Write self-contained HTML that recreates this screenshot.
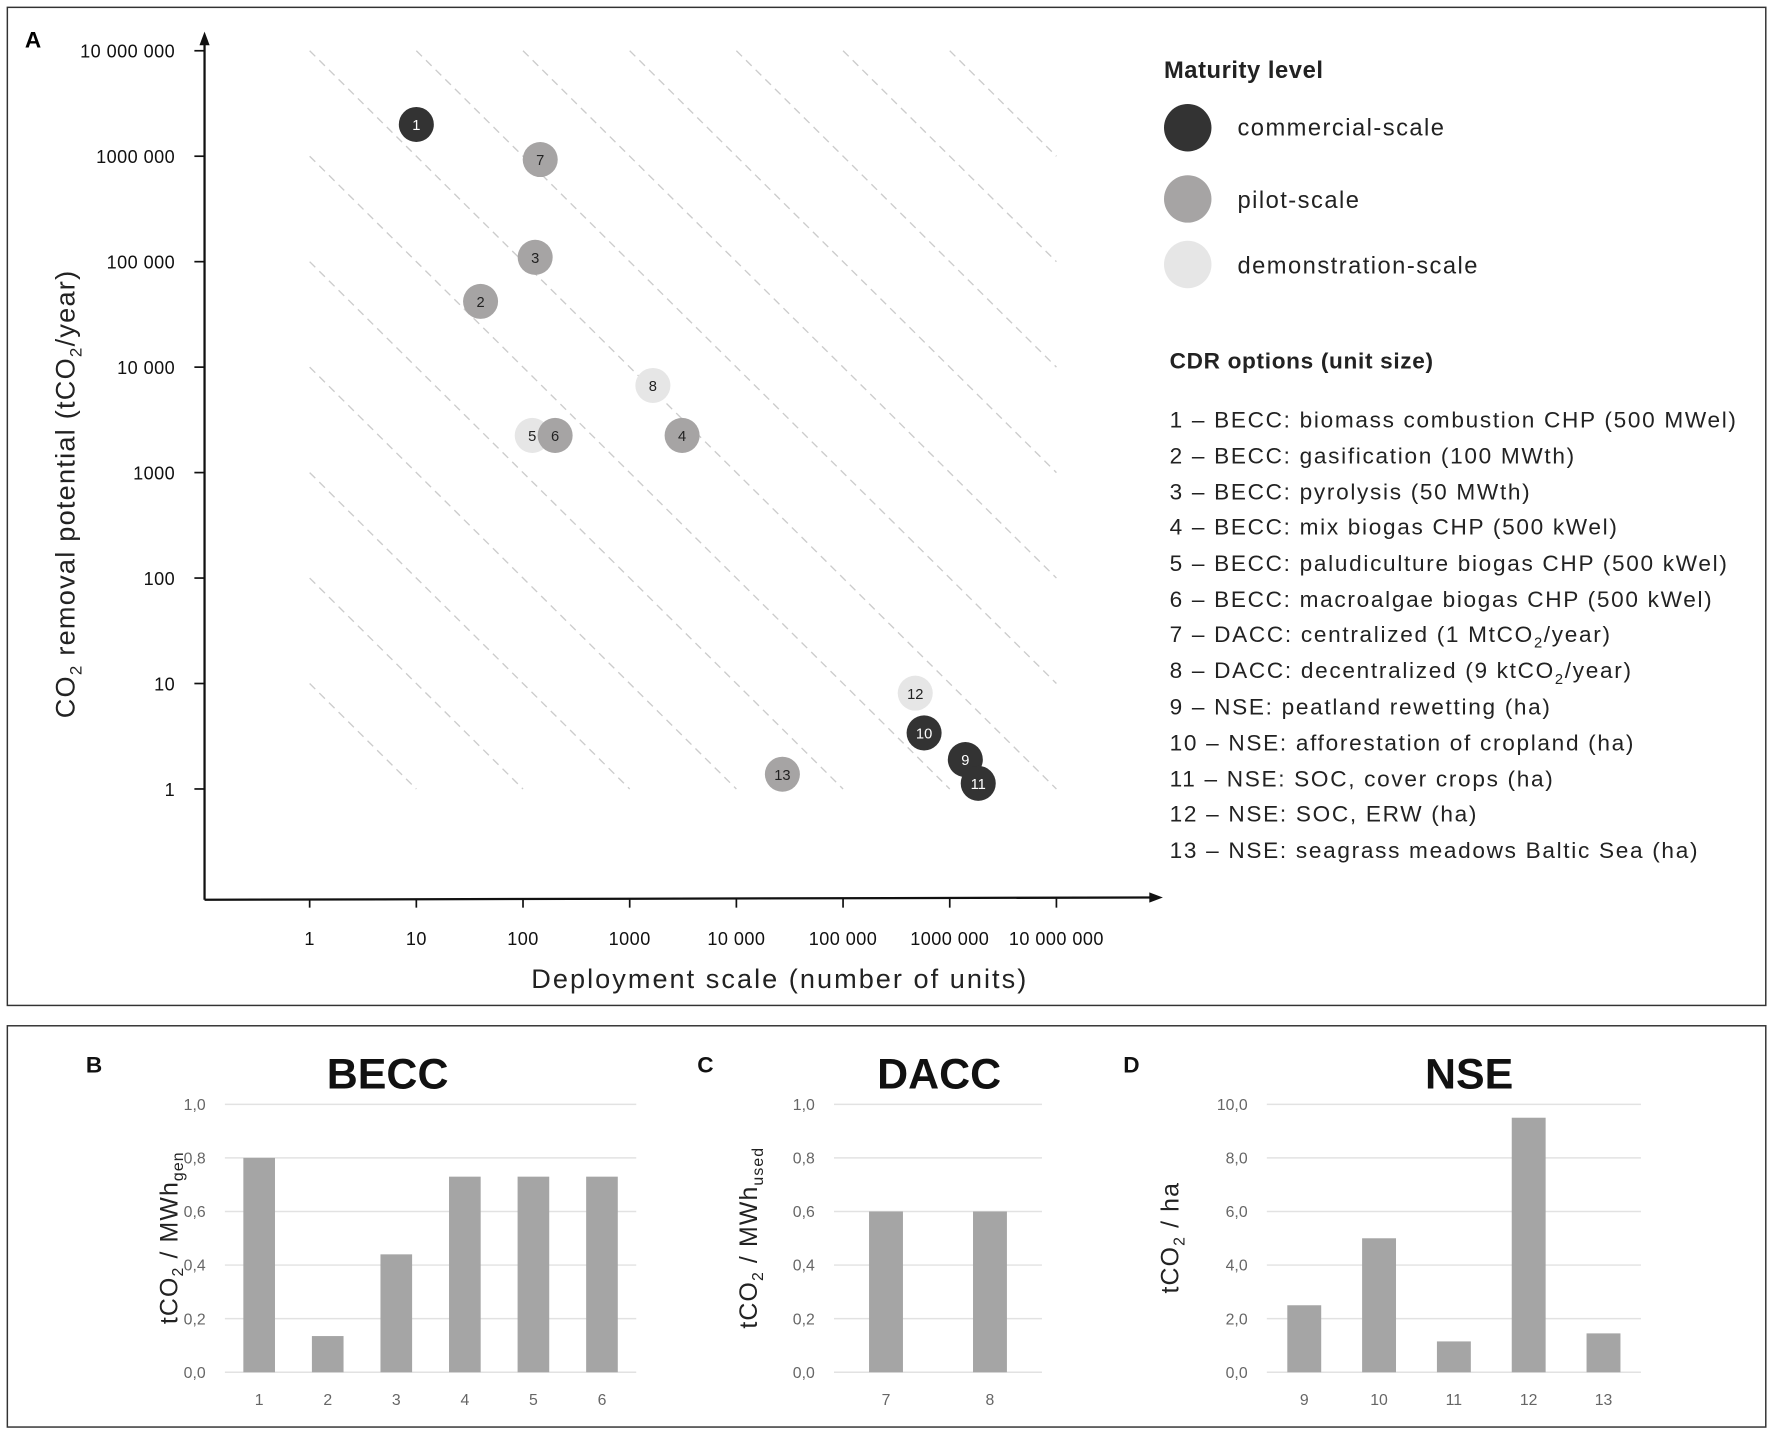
<!DOCTYPE html>
<html><head><meta charset="utf-8">
<style>
html,body{margin:0;padding:0;background:#fff;}
svg{display:block;font-family:"Liberation Sans",sans-serif;}
</style></head>
<body>
<svg id="fig" width="1772" height="1431" viewBox="0 0 1568 1266" preserveAspectRatio="none" xmlns="http://www.w3.org/2000/svg">
<rect x="6.5" y="6.5" width="1556" height="883" fill="none" stroke="#333" stroke-width="1.3"/>
<rect x="6.5" y="907.5" width="1556" height="355" fill="none" stroke="#333" stroke-width="1.3"/>
<text x="22" y="42" font-size="20" font-weight="bold">A</text>
<g id="scatter"></g>
<g id="legend" letter-spacing="1.3">
<text x="1030" y="69" font-size="21" font-weight="bold" fill="#222" letter-spacing="0.5">Maturity level</text>
<circle cx="1051" cy="113" r="21" fill="#333"/>
<text x="1095" y="120" font-size="21" fill="#222">commercial-scale</text>
<circle cx="1051" cy="176" r="21" fill="#a6a4a4"/>
<text x="1095" y="184" font-size="21" fill="#222">pilot-scale</text>
<circle cx="1051" cy="234" r="21" fill="#e6e6e6"/>
<text x="1095" y="242" font-size="21" fill="#222">demonstration-scale</text>
<text x="1035" y="326" font-size="20" font-weight="bold" fill="#222" letter-spacing="0.6">CDR options (unit size)</text>
<g font-size="20" fill="#222" letter-spacing="1.5">
<text x="1035" y="378">1 – BECC: biomass combustion CHP (500 MWel)</text>
<text x="1035" y="410">2 – BECC: gasification (100 MWth)</text>
<text x="1035" y="442">3 – BECC: pyrolysis (50 MWth)</text>
<text x="1035" y="473">4 – BECC: mix biogas CHP (500 kWel)</text>
<text x="1035" y="505">5 – BECC: paludiculture biogas CHP (500 kWel)</text>
<text x="1035" y="537">6 – BECC: macroalgae biogas CHP (500 kWel)</text>
<text x="1035" y="568">7 – DACC: centralized (1 MtCO<tspan font-size="13" dy="5">2</tspan><tspan dy="-5">/year)</tspan></text>
<text x="1035" y="600">8 – DACC: decentralized (9 ktCO<tspan font-size="13" dy="5">2</tspan><tspan dy="-5">/year)</tspan></text>
<text x="1035" y="632">9 – NSE: peatland rewetting (ha)</text>
<text x="1035" y="664">10 – NSE: afforestation of cropland (ha)</text>
<text x="1035" y="696">11 – NSE: SOC, cover crops (ha)</text>
<text x="1035" y="727">12 – NSE: SOC, ERW (ha)</text>
<text x="1035" y="759">13 – NSE: seagrass meadows Baltic Sea (ha)</text>
</g>
</g>
<g id="bars"></g>
</svg>
<script>
// ----- Scatter data (panel A) -----
const optionIds = ["1","2","3","4","5","6","7","8","9","10","11","12","13"];
const deployScale = [10, 40, 130, 3100, 122, 200, 145, 1650, 1400000, 575000, 1850000, 475000, 27000];
const removalPotential = [2000000, 42000, 110000, 2250, 2250, 2250, 930000, 6700, 1.9, 3.4, 1.13, 8.1, 1.38];
const maturity = ["commercial","pilot","pilot","pilot","demonstration","pilot","pilot","demonstration","commercial","commercial","commercial","demonstration","pilot"];
const drawOrder = [0,1,2,3,4,5,6,7,11,9,8,10,12];
const yTickLabels = ["1","10","100","1000","10 000","100 000","1000 000","10 000 000"];
const xTickLabels = ["1","10","100","1000","10 000","100 000","1000 000","10 000 000"];

// ----- Bar data (panels B, C, D) -----
const beccCats = ["1","2","3","4","5","6"];
const beccVals = [0.80, 0.135, 0.44, 0.73, 0.73, 0.73];
const daccCats = ["7","8"];
const daccVals = [0.60, 0.60];
const nseCats = ["9","10","11","12","13"];
const nseVals = [2.5, 5.0, 1.15, 9.5, 1.45];
const unitTicks = ["0,0","0,2","0,4","0,6","0,8","1,0"];
const nseTicks = ["0,0","2,0","4,0","6,0","8,0","10,0"];

const NS = "http://www.w3.org/2000/svg";
function mk(parent, tag, attrs, text){
  const e = document.createElementNS(NS, tag);
  for (const k in attrs) e.setAttribute(k, attrs[k]);
  if (text !== undefined) e.textContent = text;
  parent.appendChild(e);
  return e;
}
const X0 = 274, XD = 94.4, Y0 = 698, YD = 93.3;
const xs = v => X0 + Math.log10(v) * XD;
const ys = v => Y0 - Math.log10(v) * YD;

const sc = document.getElementById("scatter");
for (let n = 1; n <= 13; n++) {
  const dStart = Math.max(0, n - 7), dEnd = Math.min(7, n);
  const l = mk(sc, "line", {x1: xs(Math.pow(10,dStart)), y1: ys(Math.pow(10,n-dStart)), x2: xs(Math.pow(10,dEnd)), y2: ys(Math.pow(10,n-dEnd)), stroke:"#cccccc", "stroke-width":1.2, "stroke-dasharray":"7 5"});
  
  
}
let a = mk(sc, "line", {x1:181, y1:796, x2:181, y2:36, stroke:"#111", "stroke-width":2});


a = mk(sc, "path", {d:"M181 28 L176.5 40 L185.5 40 Z", fill:"#111"});


a = mk(sc, "line", {x1:181, y1:796, x2:1020, y2:794, stroke:"#111", "stroke-width":2});


a = mk(sc, "path", {d:"M1029 794 L1017 789.5 L1017 798.5 Z", fill:"#111"});


yTickLabels.forEach((lab, i) => {
  const y = ys(Math.pow(10, i));
  const t = mk(sc, "line", {x1:172, y1:y, x2:181, y2:y, stroke:"#111", "stroke-width":1.5});
  
  
  const tx = mk(sc, "text", {x:155, y:y+6, "text-anchor":"end", "font-size":16, fill:"#111", "letter-spacing":"0.4"}, lab);
  
  
});
xTickLabels.forEach((lab, i) => {
  const x = xs(Math.pow(10, i));
  const t = mk(sc, "line", {x1:x, y1:795, x2:x, y2:803, stroke:"#111", "stroke-width":1.5});
  
  
  const tx = mk(sc, "text", {x:x, y:836, "text-anchor":"middle", "font-size":16, fill:"#111", "letter-spacing":"0.4"}, lab);
  
  
});
let at = mk(sc, "text", {x:690, y:874, "text-anchor":"middle", "font-size":24, fill:"#222", "letter-spacing":"1.8"}, "Deployment scale  (number of units)");


at = mk(sc, "text", {x:0, y:0, transform:"translate(66,437) rotate(-90)", "text-anchor":"middle", "font-size":24, fill:"#222", "letter-spacing":"1.1"});


at.innerHTML = 'CO<tspan font-size="15" dy="6">2</tspan><tspan dy="-6"> removal potential (tCO</tspan><tspan font-size="15" dy="6">2</tspan><tspan dy="-6">/year)</tspan>';
const fills = {commercial:"#333", pilot:"#a6a4a4", demonstration:"#e6e6e6"};
drawOrder.forEach(i => {
  const cx = xs(deployScale[i]), cy = ys(removalPotential[i]);
  const g = mk(sc, "g", {});
  
  
  mk(g, "circle", {cx:cx, cy:cy, r:15.5, fill:fills[maturity[i]]});
  mk(g, "text", {x:cx, y:cy+5, "text-anchor":"middle", "font-size":13, fill: maturity[i]==="commercial" ? "#fff" : "#222"}, optionIds[i]);
});

const bg = document.getElementById("bars");
function barChart(o){
  const g = mk(bg, "g", {});
  
  
  const yTop = 977, yBot = 1214;
  const ysc = v => yBot - (v / o.max) * (yBot - yTop);
  o.ticks.forEach((lab, i) => {
    const y = yBot - i * (yBot - yTop) / (o.ticks.length - 1);
    const gl = mk(g, "line", {x1:o.gx1, y1:y, x2:o.gx2, y2:y, stroke:"#e2e2e2", "stroke-width":1.3});
    
    
    const tl = mk(g, "text", {x:o.gx1-17, y:y+5, "text-anchor":"end", "font-size":14, fill:"#666"}, lab);
    
    
  });
  const step = (o.gx2 - o.gx1) / o.cats.length;
  o.cats.forEach((c, i) => {
    const cx = o.gx1 + step * (i + 0.5);
    const r = mk(g, "rect", {x:cx - o.bw/2, y:ysc(o.vals[i]), width:o.bw, height:yBot - ysc(o.vals[i]), fill:"#a5a5a5"});
    
    
    const xl = mk(g, "text", {x:cx, y:1243, "text-anchor":"middle", "font-size":14, fill:"#666"}, c);
    
    
  });
  const tt = mk(g, "text", {x:o.tx, y:963, "text-anchor":"middle", "font-size":38, "font-weight":"bold", fill:"#111"}, o.title);
  
  
  const pl = mk(g, "text", {x:o.lx, y:949, "font-size":20, "font-weight":"bold", fill:"#111"}, o.letter);
  
  
  const yt = mk(g, "text", {x:0, y:0, transform:"translate(" + o.ytx + ",1095) rotate(-90)", "text-anchor":"middle", "font-size":22, fill:"#222", "letter-spacing":"1"});
  
  
  yt.innerHTML = o.ytitle;
}
barChart({name:"becc-chart", cats:beccCats, vals:beccVals, ticks:unitTicks, max:1.0, gx1:199, gx2:563, bw:28, tx:343, lx:76, letter:"B", title:"BECC", ytx:157,
  ytitle:'tCO<tspan font-size="14" dy="5">2</tspan><tspan dy="-5"> / MWh</tspan><tspan font-size="14" dy="5">gen</tspan>'});
barChart({name:"dacc-chart", cats:daccCats, vals:daccVals, ticks:unitTicks, max:1.0, gx1:738, gx2:922, bw:30, tx:831, lx:617, letter:"C", title:"DACC", ytx:670,
  ytitle:'tCO<tspan font-size="14" dy="5">2</tspan><tspan dy="-5"> / MWh</tspan><tspan font-size="14" dy="5">used</tspan>'});
barChart({name:"nse-chart", cats:nseCats, vals:nseVals, ticks:nseTicks, max:10.0, gx1:1121, gx2:1452, bw:30, tx:1300, lx:994, letter:"D", title:"NSE", ytx:1043,
  ytitle:'tCO<tspan font-size="14" dy="5">2</tspan><tspan dy="-5"> / ha</tspan>'});
</script>
</body></html>
